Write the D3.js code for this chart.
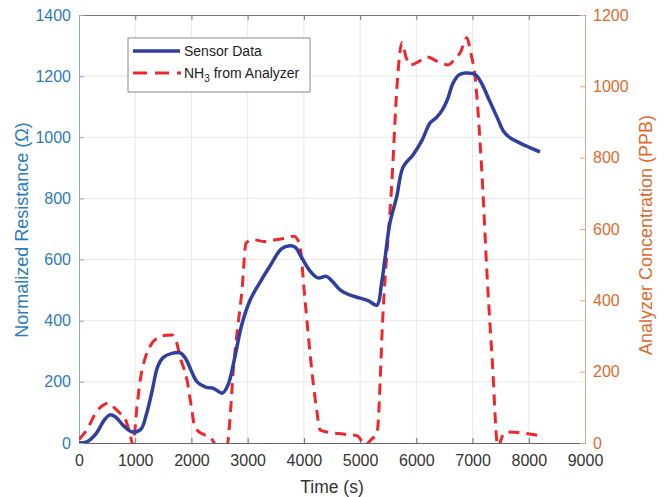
<!DOCTYPE html>
<html>
  <head>
    <meta charset="utf-8">
    <title>Sensor vs analyzer</title>
    <script src="https://d3js.org/d3.v7.min.js"></script>
    <style>
      body { margin: 0; background: #fff; }
      text { font-family: "Liberation Sans", Arial, sans-serif; }
    </style>
  </head>
  <body>
    <svg id="chart" width="664" height="497"></svg>
    <script>
      // sensor data (left axis, ohm)
      var sensorTime = [0, 150, 300, 450, 550, 650, 800, 950, 1100, 1200, 1300, 1400, 1500, 1650, 1800, 1900,
        2000, 2100, 2250, 2400, 2550, 2650, 2750, 2900, 3050, 3200, 3400, 3600, 3750, 3850, 3950, 4100,
        4250, 4400, 4500, 4650, 4800, 5000, 5150, 5300, 5380, 5440, 5530, 5650, 5765, 5940, 6100, 6245,
        6350, 6460, 6550, 6655, 6760, 6870, 7045, 7150, 7300, 7435, 7550, 7670, 7800, 8000, 8200];
      var sensorVals = [0, 5, 30, 75, 92, 85, 55, 36, 45, 95, 170, 250, 280, 293, 295, 275,
        235, 200, 183, 178, 163, 190, 262, 390, 470, 520, 580, 635, 645, 640, 610, 565,
        540, 545, 530, 500, 485, 474, 465, 451, 520, 600, 720, 805, 903, 942, 990, 1047,
        1063, 1089, 1122, 1178, 1204, 1210, 1205, 1180, 1120, 1066, 1020, 998, 985, 968, 952];

      // NH3 from analyzer (right axis, ppb)
      var nh3Time = [0, 150, 300, 420, 520, 620, 720, 820, 900, 960, 1030, 1090, 1180, 1260, 1400, 1550,
        1650, 1720, 1800, 1920, 2000, 2060, 2200, 2330, 2470, 2630, 2700, 2740, 2820, 2900, 2970, 3100,
        3300, 3500, 3700, 3820, 3920, 4020, 4160, 4230, 4290, 4450, 4700, 4950, 5090, 5200, 5300, 5410,
        5570, 5655, 5745, 5820, 5890, 6050, 6190, 6400, 6565, 6700, 6780, 6900, 6960, 7045, 7170, 7260,
        7350, 7450, 7550, 7630, 7900, 8200];
      var nh3Vals = [10, 40, 85, 105, 112, 100, 85, 68, 30, -5, 100, 177, 240, 270, 295, 302,
        303, 290, 240, 177, 100, 45, 25, 17, -10, -10, 100, 196, 320, 429, 560, 570,
        565, 570, 575, 580, 560, 400, 176, 90, 36, 30, 25, 20, -5, 10, 28, 373,
        746, 998, 1122, 1080, 1060, 1070, 1082, 1068, 1060, 1080, 1094, 1136, 1100, 1026, 746, 465,
        233, -10, 25, 31, 28, 20];

      var xTicks = [0, 1000, 2000, 3000, 4000, 5000, 6000, 7000, 8000, 9000];
      var leftTicks = [0, 200, 400, 600, 800, 1000, 1200, 1400];
      var rightTicks = [0, 200, 400, 600, 800, 1000, 1200];

      var margin = { top: 15, right: 79, bottom: 54, left: 79 };
      var width = 664 - margin.left - margin.right;
      var height = 497 - margin.top - margin.bottom;

      var blue = "#2b7bba", orange = "#dd6a30";
      var fmt = d3.format("d");

      var x = d3.scaleLinear().domain([0, 9000]).range([0, width]);
      var yL = d3.scaleLinear().domain([0, 1400]).range([height, 0]);
      var yR = d3.scaleLinear().domain([0, 1200]).range([height, 0]);

      var svg = d3.select("#chart");
      var g = svg.append("g")
        .attr("transform", "translate(" + margin.left + "," + margin.top + ")");

      g.append("defs").append("clipPath").attr("id", "clip")
        .append("rect").attr("width", width).attr("height", height);

      // grid
      g.append("g").selectAll("line").data(xTicks.slice(1, -1)).enter().append("line")
        .attr("x1", d => x(d)).attr("x2", d => x(d))
        .attr("y1", 0).attr("y2", height)
        .attr("stroke", "#e8e8e8");
      g.append("g").selectAll("line").data(leftTicks.slice(1, -1)).enter().append("line")
        .attr("x1", 0).attr("x2", width)
        .attr("y1", d => yL(d)).attr("y2", d => yL(d))
        .attr("stroke", "#e8e8e8");

      // x axes (bottom + top)
      var xAxis = g.append("g")
        .attr("transform", "translate(0," + height + ")")
        .call(d3.axisBottom(x).tickValues(xTicks).tickFormat(fmt).tickSizeInner(-5).tickSizeOuter(0).tickPadding(12));
      xAxis.select(".domain").attr("stroke", "#666");
      xAxis.selectAll(".tick line").attr("stroke", "#666");
      xAxis.selectAll("text").attr("fill", "#333").style("font-size", "16px");

      var xTop = g.append("g")
        .call(d3.axisTop(x).tickValues(xTicks).tickSizeInner(-5).tickSizeOuter(0).tickFormat(""));
      xTop.select(".domain").attr("stroke", "#777");
      xTop.selectAll(".tick line").attr("stroke", "#777");

      // left axis
      var left = g.append("g")
        .call(d3.axisLeft(yL).tickValues(leftTicks).tickFormat(fmt).tickSizeInner(-5).tickSizeOuter(0).tickPadding(8));
      left.select(".domain").attr("stroke", "#86aed3");
      left.selectAll(".tick line").attr("stroke", "#86aed3");
      left.selectAll("text").attr("fill", blue).style("font-size", "16px");

      // right axis
      var right = g.append("g")
        .attr("transform", "translate(" + width + ",0)")
        .call(d3.axisRight(yR).tickValues(rightTicks).tickFormat(fmt).tickSizeInner(-5).tickSizeOuter(0).tickPadding(8));
      right.select(".domain").attr("stroke", "#e3a590");
      right.selectAll(".tick line").attr("stroke", "#e3a590");
      right.selectAll("text").attr("fill", orange).style("font-size", "16px");

      // lines
      var plot = g.append("g").attr("clip-path", "url(#clip)");

      var nh3Line = d3.line()
        .x((d, i) => x(nh3Time[i]))
        .y(d => yR(d))
        .curve(d3.curveMonotoneX);
      plot.append("path")
        .attr("d", nh3Line(nh3Vals))
        .attr("fill", "none")
        .attr("stroke", "#f0262b")
        .attr("stroke-width", 3)
        .attr("stroke-dasharray", "11,7");

      var sensorLine = d3.line()
        .x((d, i) => x(sensorTime[i]))
        .y(d => yL(d))
        .curve(d3.curveCatmullRom.alpha(0.5));
      plot.append("path")
        .attr("d", sensorLine(sensorVals))
        .attr("fill", "none")
        .attr("stroke", "#2e3f9e")
        .attr("stroke-width", 3.5)
        .attr("stroke-linejoin", "round");

      // axis titles
      svg.append("text")
        .attr("x", margin.left + width / 2).attr("y", 493)
        .attr("text-anchor", "middle").attr("fill", "#333")
        .style("font-size", "17.5px")
        .text("Time (s)");
      svg.append("text")
        .attr("transform", "translate(28,230) rotate(-90)")
        .attr("text-anchor", "middle").attr("fill", blue)
        .style("font-size", "18px")
        .text("Normalized Resistance (\u03A9)");
      svg.append("text")
        .attr("transform", "translate(652,235) rotate(-90)")
        .attr("text-anchor", "middle").attr("fill", orange)
        .style("font-size", "18px")
        .text("Analyzer Concentration (PPB)");

      // legend
      var lg = svg.append("g");
      lg.append("rect")
        .attr("x", 128).attr("y", 38).attr("width", 182).attr("height", 54)
        .attr("fill", "#fff").attr("stroke", "#888");
      lg.append("line")
        .attr("x1", 133).attr("x2", 180).attr("y1", 51).attr("y2", 51)
        .attr("stroke", "#2e3f9e").attr("stroke-width", 3.5);
      lg.append("line")
        .attr("x1", 133).attr("x2", 181).attr("y1", 73).attr("y2", 73)
        .attr("stroke", "#f0262b").attr("stroke-width", 3)
        .attr("stroke-dasharray", "14,8");
      lg.append("text").attr("x", 184).attr("y", 56)
        .style("font-size", "14px").attr("fill", "#222")
        .text("Sensor Data");
      var t2 = lg.append("text").attr("x", 184).attr("y", 78)
        .style("font-size", "14px").attr("fill", "#222");
      t2.append("tspan").text("NH");
      t2.append("tspan").attr("dy", 4).style("font-size", "10px").text("3");
      t2.append("tspan").attr("dy", -4).text(" from Analyzer");
    </script>
  </body>
</html>
